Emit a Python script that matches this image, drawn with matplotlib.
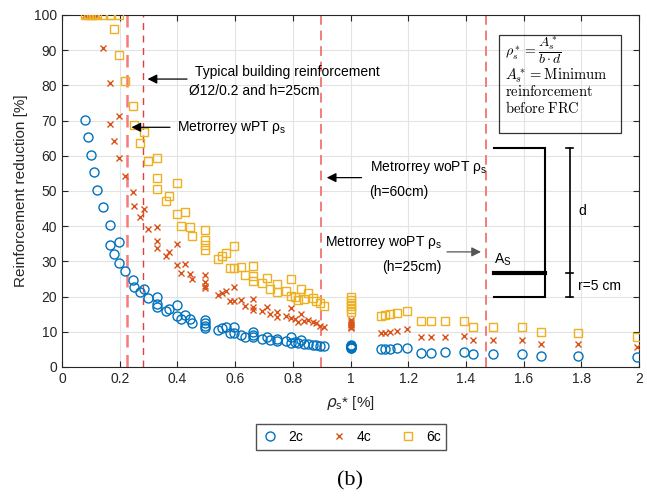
import numpy as np
import matplotlib.pyplot as plt
from matplotlib.lines import Line2D
from matplotlib.patches import Rectangle

plt.rcParams['font.family'] = ['Liberation Sans', 'DejaVu Sans']
plt.rcParams['mathtext.fontset'] = 'dejavusans'

# rho_s* [%] and reinforcement reduction [%] for the three cases
rho = [0.081, 0.089, 0.100, 0.111, 0.123, 0.141, 0.165, 0.198, 0.165, 0.179,
       0.198, 0.219, 0.246, 0.248, 0.284, 0.271, 0.298, 0.331, 0.331, 0.331,
       0.398, 0.371, 0.361, 0.398, 0.427, 0.413, 0.442, 0.452, 0.497, 0.497,
       0.497, 0.497, 0.541, 0.555, 0.567, 0.581, 0.596, 0.596, 0.622, 0.633,
       0.662, 0.662, 0.662, 0.694, 0.712, 0.720, 0.745, 0.745, 0.775, 0.795,
       0.795, 0.806, 0.818, 0.830, 0.839, 0.852, 0.870, 0.881, 0.896, 0.908,
       1.0, 1.0, 1.0, 1.0, 1.0, 1.0, 1.106, 1.121, 1.138, 1.161,
       1.195, 1.245, 1.279, 1.328, 1.394, 1.423, 1.493, 1.593, 1.660, 1.790,
       1.994]
red_2c = [70.1, 65.3, 60.3, 55.3, 50.3, 45.4, 40.4, 35.6, 34.7, 32.1,
          29.6, 27.3, 24.7, 22.8, 22.2, 21.2, 19.5, 20.0, 17.9, 17.0,
          17.5, 16.4, 15.8, 14.6, 14.7, 13.5, 13.5, 12.5, 13.4, 12.4,
          11.7, 11.0, 10.5, 11.0, 11.3, 9.6, 11.5, 9.6, 9.1, 8.6,
          10.0, 9.2, 8.6, 7.95, 8.4, 7.7, 7.9, 7.3, 7.4, 8.4,
          6.9, 7.2, 6.7, 7.6, 6.5, 6.4, 6.3, 6.25, 6.0, 6.0,
          6.3, 6.1, 5.9, 5.7, 5.5, 5.3, 5.0, 5.0, 5.1, 5.3,
          5.5, 4.1, 4.1, 4.3, 4.4, 3.8, 3.8, 3.8, 3.2, 3.2,
          2.9]
red_4c = [100, 100, 100, 100, 100, 90.5, 80.8, 71.3, 69.1, 64.3,
          59.4, 54.4, 49.6, 45.6, 44.9, 42.5, 39.3, 39.8, 35.8, 33.9,
          35.0, 32.6, 31.6, 29.1, 29.4, 26.8, 26.5, 24.9, 26.1, 24.2,
          23.0, 22.4, 20.5, 20.9, 21.7, 18.75, 22.8, 18.75, 19.0, 17.3,
          19.2, 17.1, 16.2, 15.9, 17.1, 15.1, 15.7, 14.3, 14.6, 16.7,
          13.8, 13.5, 12.9, 15.0, 13.0, 13.4, 12.9, 12.4, 11.6, 11.5,
          13.4, 12.8, 12.3, 11.8, 11.4, 11.0, 9.7, 9.8, 9.9, 10.3,
          10.7, 8.6, 8.6, 8.6, 8.8, 7.7, 7.7, 7.7, 6.6, 6.6,
          5.8]
red_6c = [100, 100, 100, 100, 100, 100, 100, 100, 100, 96.0,
          88.6, 81.3, 74.1, 68.8, 66.8, 63.5, 58.6, 59.5, 53.6, 50.7,
          52.4, 48.7, 47.2, 43.5, 44.0, 40.1, 39.9, 37.3, 38.9, 36.1,
          34.7, 33.2, 30.7, 31.5, 32.5, 28.2, 34.4, 28.2, 28.3, 26.1,
          28.8, 25.9, 24.4, 24.0, 25.4, 22.3, 23.5, 21.4, 21.7, 25.0,
          20.3, 19.8, 19.0, 22.3, 19.3, 20.9, 19.5, 18.75, 18.1, 17.4,
          19.9, 19.0, 18.2, 17.3, 16.5, 15.7, 14.5, 14.7, 15.0, 15.4,
          15.9, 13.1, 13.1, 13.2, 13.2, 11.5, 11.4, 11.3, 9.9, 9.8,
          8.6]

# vertical reference lines
rho_typical = 0.282
rho_wpt = 0.225
rho_wopt60 = 0.898
rho_wopt25 = 1.47

fig = plt.figure(figsize=(6.47, 4.98), dpi=100)
ax = fig.add_axes([62/647, 1-367/498, (639-62)/647, (367-15)/498])

ax.grid(True, color='#e3e3e3', linewidth=0.8, zorder=0)
ax.set_axisbelow(True)

ax.axvline(rho_wpt, color='#f47c7c', linestyle=(0, (5, 3)), linewidth=1.8, zorder=1)
ax.axvline(rho_typical, color='#e0403a', linestyle=(0, (5, 4)), linewidth=1.0, zorder=1)
ax.axvline(rho_wopt60, color='#f47c7c', linestyle=(0, (5, 3)), linewidth=1.4, zorder=1)
ax.axvline(rho_wopt25, color='#f47c7c', linestyle=(0, (5, 3)), linewidth=1.4, zorder=1)

ax.plot(rho, red_2c, 'o', mfc='none', mec='#0072BD', ms=6.5, mew=1.0, label='2c', zorder=3)
ax.plot(rho, red_4c, 'x', color='#D95319', ms=5, mew=1.0, label='4c', zorder=3)
ax.plot(rho, red_6c, 's', mfc='none', mec='#EDB120', ms=5.5, mew=1.0, label='6c', zorder=3)

ax.set_xlim(0, 2)
ax.set_ylim(0, 100)
ax.set_xticks(np.arange(0, 2.01, 0.2))
ax.set_xticklabels(['0', '0.2', '0.4', '0.6', '0.8', '1', '1.2', '1.4', '1.6', '1.8', '2'])
ax.set_yticks(np.arange(0, 101, 10))
ax.tick_params(direction='in', top=True, right=True, labelsize=10,
               colors='#262626', length=4)
for s in ax.spines.values():
    s.set_color('#262626')
    s.set_linewidth(0.8)

ax.set_ylabel('Reinforcement reduction [%]', fontsize=11, color='#262626')
ax.set_xlabel(r'$\rho_{\mathrm{s}}$* [%]', fontsize=11, color='#262626', labelpad=6)

# annotations
ax.annotate('', xy=(0.287, 81.8), xytext=(0.443, 81.8),
            arrowprops=dict(arrowstyle='-|>', color='black', lw=0.9, mutation_scale=14))
ax.text(0.46, 83.8, 'Typical building reinforcement', fontsize=10, va='center')
ax.text(0.44, 78.4, '\u00d812/0.2 and h=25cm', fontsize=10, va='center')

ax.annotate('', xy=(0.231, 68.1), xytext=(0.384, 68.1),
            arrowprops=dict(arrowstyle='-|>', color='black', lw=0.9, mutation_scale=14))
ax.text(0.398, 68.1, r'Metrorrey wPT $\mathregular{\rho_s}$', fontsize=10, va='center')

ax.annotate('', xy=(0.908, 53.8), xytext=(1.048, 53.8),
            arrowprops=dict(arrowstyle='-|>', color='black', lw=0.9, mutation_scale=14))
ax.text(1.066, 56.8, r'Metrorrey woPT $\mathregular{\rho_s}$', fontsize=10, va='center')
ax.text(1.066, 49.8, '(h=60cm)', fontsize=10, va='center')

ax.annotate('', xy=(1.462, 32.7), xytext=(1.325, 32.7),
            arrowprops=dict(arrowstyle='-|>', color='#555555', lw=0.9, mutation_scale=14))
ax.text(0.91, 35.5, r'Metrorrey woPT $\mathregular{\rho_s}$', fontsize=10, va='center')
ax.text(1.11, 28.4, '(h=25cm)', fontsize=10, va='center')

# definition box
ax.add_patch(Rectangle((1.516, 66.4), 0.421, 27.9, fill=False, edgecolor='#333333',
                       linewidth=0.9, zorder=4))
ax.text(1.535, 89.9, r'$\rho_s^* = \dfrac{A_s^*}{b \cdot d}$', fontsize=10, va='center',
        math_fontfamily='cm')
ax.text(1.535, 82.7, r'$A_s^* = \mathrm{Minimum}$', fontsize=10.5, va='center',
        math_fontfamily='cm')
ax.text(1.535, 78.2, r'$\mathrm{reinforcement}$', fontsize=10.5, va='center',
        math_fontfamily='cm')
ax.text(1.535, 73.6, r'$\mathrm{before\ FRC}$', fontsize=10.5, va='center',
        math_fontfamily='cm')

# section sketch
ax.plot([1.498, 1.674, 1.674, 1.498], [62.3, 62.3, 19.8, 19.8], color='black', lw=1.5,
        solid_joinstyle='miter')
ax.plot([1.498, 1.674], [26.6, 26.6], color='black', lw=3.0)
ax.text(1.498, 28.0, r'A$_\mathregular{S}$', fontsize=10, va='bottom')
ax.plot([1.76, 1.76], [62.1, 19.8], color='black', lw=1.2)
for yc in [62.1, 26.6, 19.8]:
    ax.plot([1.748, 1.772], [yc, yc], color='black', lw=1.2)
ax.text(1.789, 44.4, 'd', fontsize=10, va='center')
ax.text(1.789, 23.1, 'r=5 cm', fontsize=10, va='center')

fig.legend(handles=[Line2D([], [], ls='none', marker='o', mfc='none', mec='#0072BD', ms=6.5),
                    Line2D([], [], ls='none', marker='x', color='#D95319', ms=5),
                    Line2D([], [], ls='none', marker='s', mfc='none', mec='#EDB120', ms=5.5)],
           labels=['2c', '4c', '6c'], loc='center', bbox_to_anchor=(351/647, 1-437/498),
           ncol=3, fontsize=10, frameon=True, fancybox=False, edgecolor='#262626',
           handlelength=1.2, columnspacing=2.0, handletextpad=0.7, borderpad=0.4)

fig.text(350/647, 1-481/498, '(b)', fontsize=16, family='Liberation Serif',
         ha='center', va='center')

fig.savefig('out.png', dpi=100)
